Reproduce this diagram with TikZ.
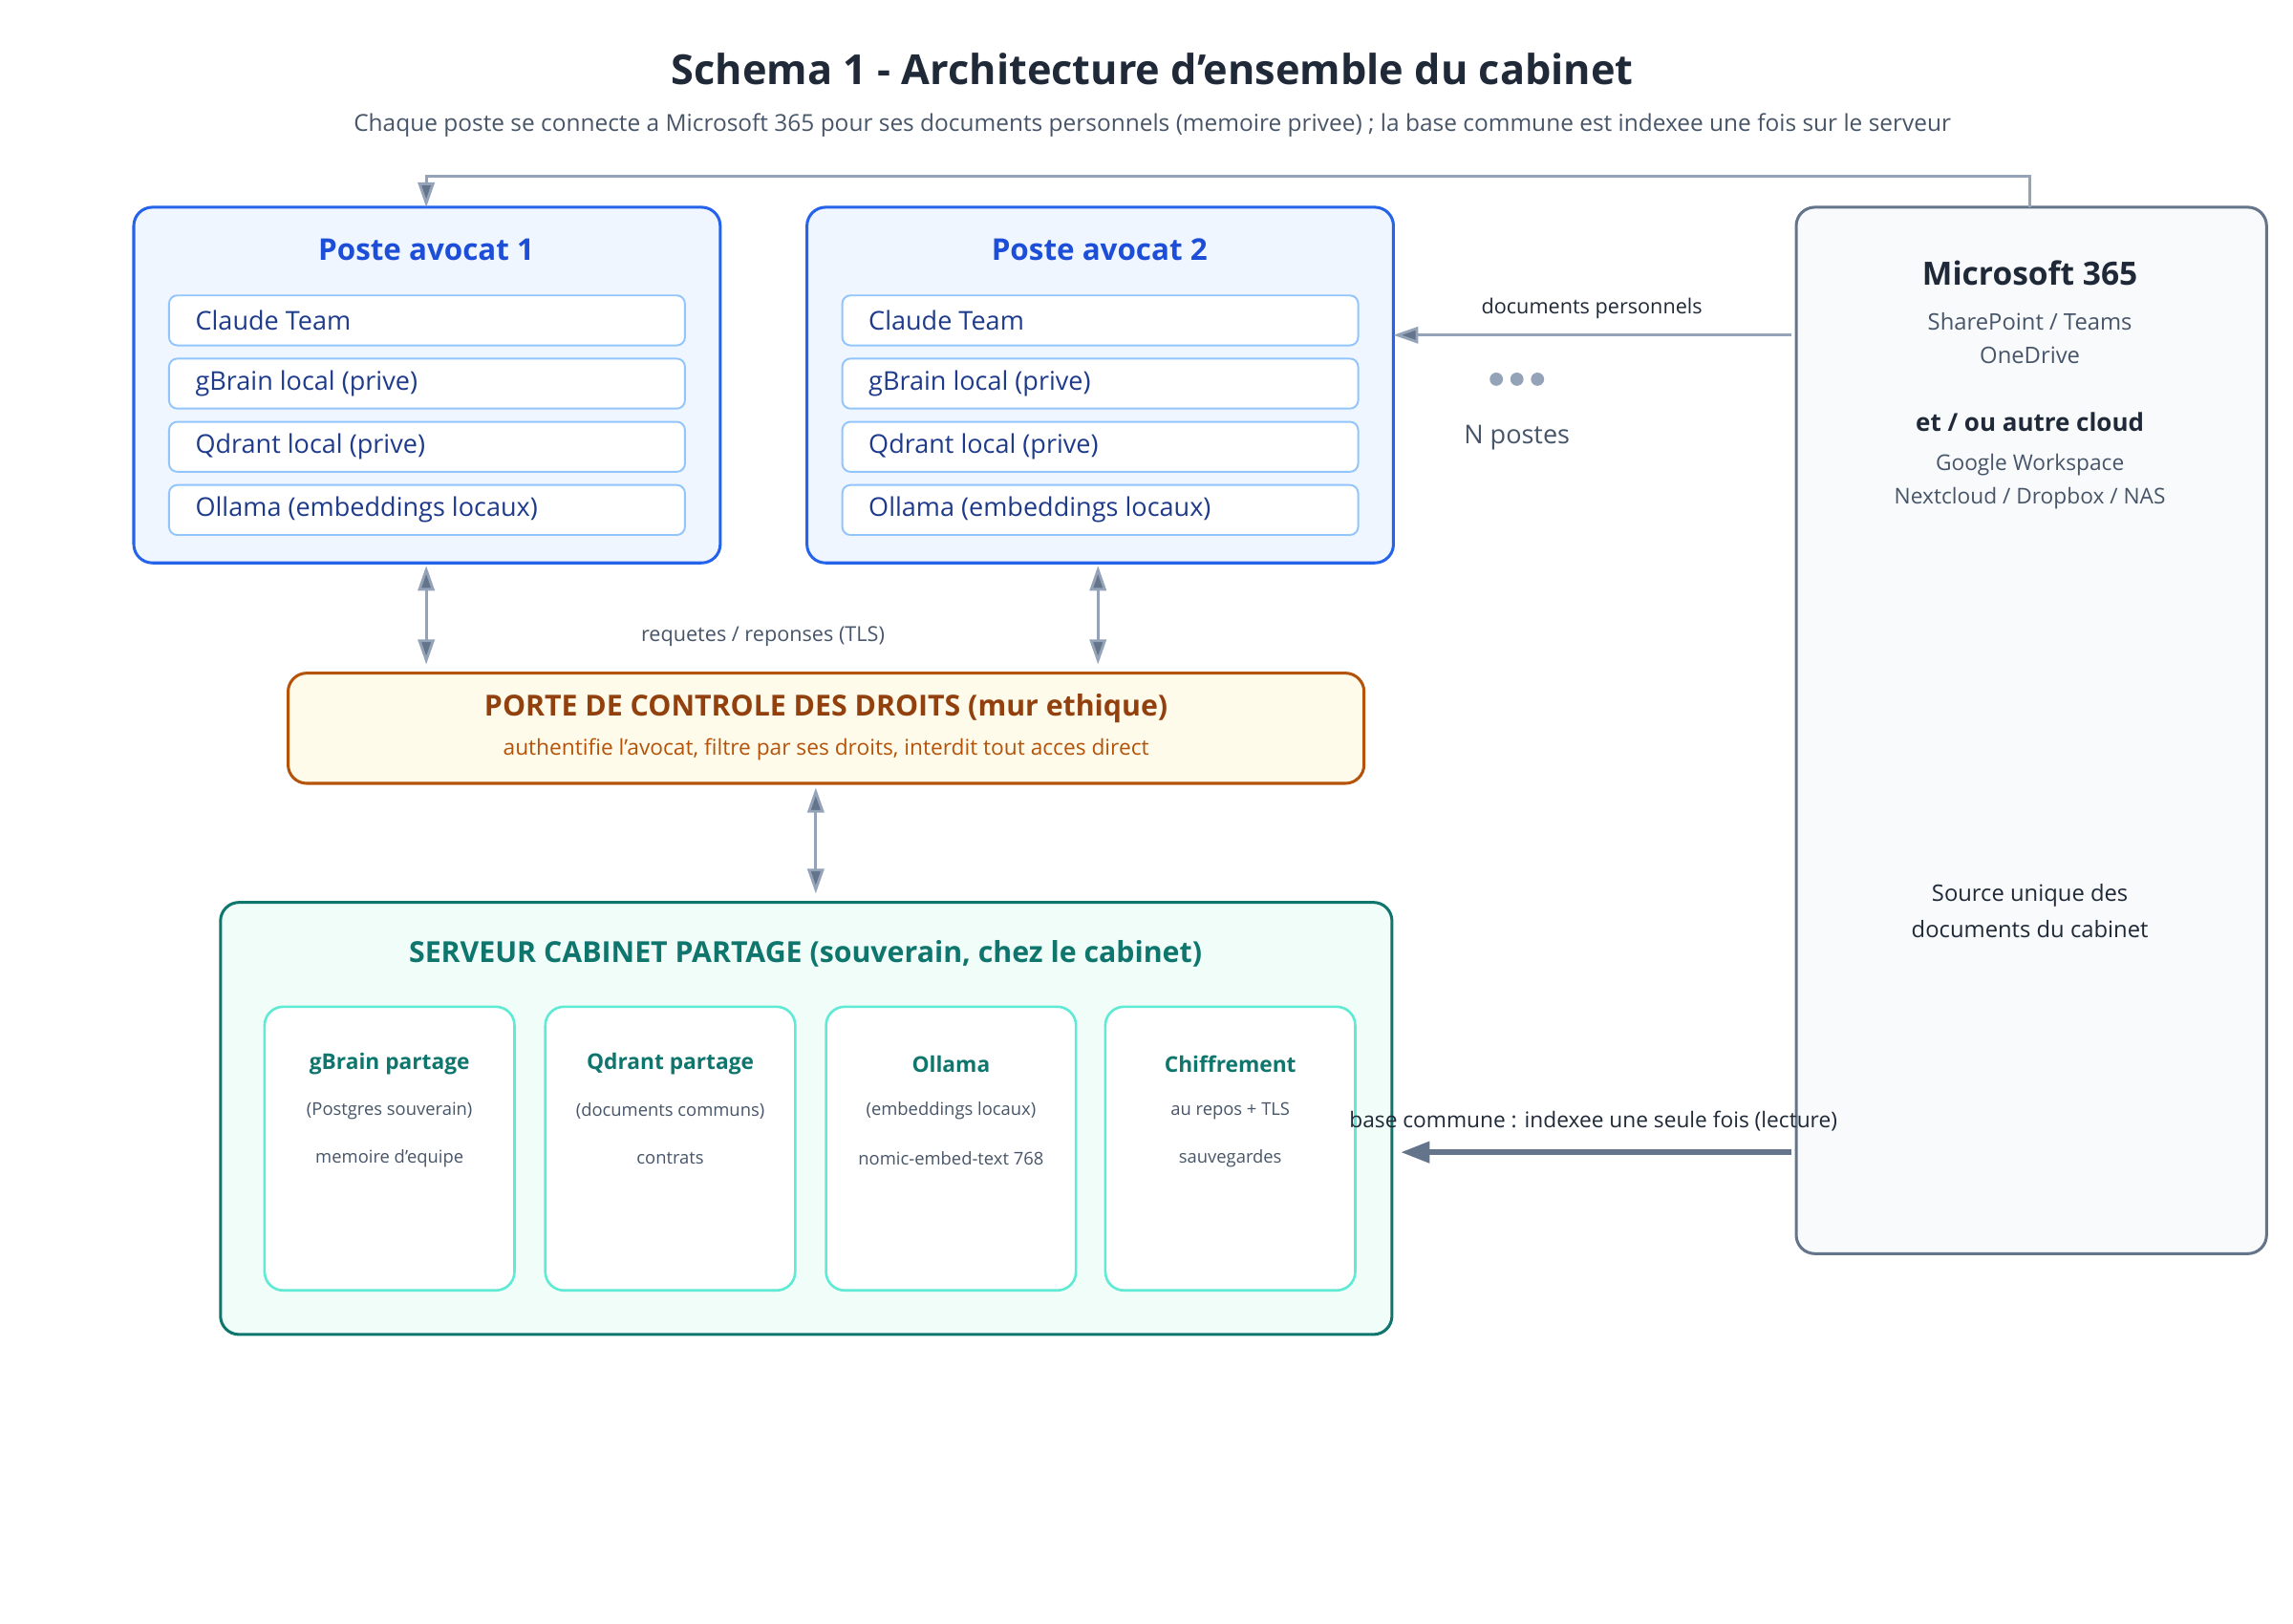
\documentclass[tikz,border=0pt]{standalone}
\usepackage{fontspec}
\setmainfont{Open Sans}
\usetikzlibrary{arrows.meta}
\definecolor{pb}{HTML}{2563EB}\definecolor{pf}{HTML}{EFF6FF}\definecolor{pt}{HTML}{1D4ED8}
\definecolor{ib}{HTML}{93C5FD}\definecolor{it}{HTML}{1E3A8A}
\definecolor{gb}{HTML}{B45309}\definecolor{gf}{HTML}{FEFBEA}\definecolor{gt}{HTML}{92400E}
\definecolor{sb}{HTML}{0F766E}\definecolor{sf}{HTML}{F0FDF9}\definecolor{sib}{HTML}{5EEAD4}
\definecolor{mb}{HTML}{64748B}\definecolor{mf}{HTML}{F8FAFC}\definecolor{ln}{HTML}{94A3B8}
\definecolor{dk}{HTML}{1F2937}\definecolor{tx}{HTML}{475569}
\begin{document}
\begin{tikzpicture}[x=0.025cm,y=-0.025cm,
 box/.style={draw,rounded corners=9pt,line width=1.4pt},
 inner/.style={draw=ib,fill=white,rounded corners=4pt,line width=0.9pt},
 itx/.style={anchor=west,text=it,font=\fontsize{12.5}{14}\selectfont},
 small/.style={text=tx,font=\fontsize{8.5}{10}\selectfont},
 arr/.style={draw=ln,line width=1.3pt,-{Triangle[length=12pt,width=8pt,fill=mb]}},
 darr/.style={draw=ln,line width=1.3pt,{Triangle[length=12pt,width=8pt,fill=mb]}-{Triangle[length=12pt,width=8pt,fill=mb]}}]
\useasboundingbox (0,0) rectangle (1560,1105);
\node[font=\bfseries\fontsize{20}{24}\selectfont,text=dk] (title) at (784,47) {Schema 1 - Architecture d'ensemble du cabinet};
\node[font=\fontsize{11.3}{13}\selectfont,text=tx] (sub) at (784,85) {Chaque poste se connecte a Microsoft 365 pour ses documents personnels (memoire privee) ; la base commune est indexee une fois sur le serveur};
% postes
\foreach \n/\x in {1/91,2/549}{
 \draw[box,draw=pb,fill=pf] (\x,141) rectangle ++(399,242);
 \node[font=\bfseries\fontsize{14.5}{17}\selectfont,text=pt] (pt\n) at (\x+199,170) {Poste avocat \n};
 \foreach \i/\t in {0/Claude Team,1/gBrain local (prive),2/Qdrant local (prive),3/Ollama (embeddings locaux)}{
  \draw[inner] (\x+24,201+43*\i) rectangle ++(351,34);
  \node[itx] (p\n i\i) at (\x+37,218+43*\i) {\t};}
}
\coordinate (p1top) at (290,141);\coordinate (p1bot) at (290,385);
\coordinate (p2bot) at (747,385);\coordinate (p2right) at (948,228);
% MS365
\draw[box,draw=mb,fill=mf] (1222,141) rectangle (1542,853);
\node[font=\bfseries\fontsize{15.5}{18}\selectfont,text=dk] (ms) at (1381,186) {Microsoft 365};
\node[text=tx,font=\fontsize{11}{13}\selectfont] (ms1) at (1381,219) {SharePoint / Teams};
\node[text=tx,font=\fontsize{11}{13}\selectfont] (ms2) at (1381,242) {OneDrive};
\node[font=\bfseries\fontsize{12}{14}\selectfont,text=dk] (ms3) at (1381,287) {et / ou autre cloud};
\node[text=tx,font=\fontsize{10.5}{13}\selectfont] (ms4) at (1381,316) {Google Workspace};
\node[text=tx,font=\fontsize{10.5}{13}\selectfont] (ms5) at (1381,339) {Nextcloud / Dropbox / NAS};
\node[text=dk,font=\fontsize{11}{13}\selectfont] (ms6) at (1381,609) {Source unique des};
\node[text=dk,font=\fontsize{11}{13}\selectfont] (ms7) at (1381,632) {documents du cabinet};
\coordinate (mstop) at (1381,141);\coordinate (msl1) at (1219,228);\coordinate (msl2) at (1219,784);
\draw[arr] (mstop) -- (1381,120) -- (290,120) -- (p1top);
\draw[arr] (msl1) -- (p2right);
\node[font=\fontsize{10}{12}\selectfont,text=dk] (dp) at (1083,210) {documents personnels};
\foreach \dx in {-14,0,14}\fill[ln] (1032+\dx,258) circle (4.5);
\node[font=\fontsize{12.5}{14}\selectfont,text=tx] (np) at (1032,298) {N postes};
% gate
\draw[box,draw=gb,fill=gf] (196,458) rectangle (928,533);
\node[font=\bfseries\fontsize{14}{17}\selectfont,text=gt] (g1) at (562,482) {PORTE DE CONTROLE DES DROITS (mur ethique)};
\node[font=\fontsize{10.5}{12}\selectfont,text=gb] (g2) at (562,510) {authentifie l'avocat, filtre par ses droits, interdit tout acces direct};
\coordinate (gt1) at (290,452);\coordinate (gt2) at (747,452);\coordinate (gbot) at (555,536);\coordinate (stop) at (555,608);
\draw[darr] (p1bot) -- (gt1);
\draw[darr] (p2bot) -- (gt2);
\node[font=\fontsize{10}{12}\selectfont,text=tx] (rq) at (519,433) {requetes / reponses (TLS)};
\draw[darr] (gbot) -- (stop);
% server
\draw[box,draw=sb,fill=sf] (150,614) rectangle (947,908);
\node[font=\bfseries\fontsize{14}{17}\selectfont,text=sb] (st) at (548,649) {SERVEUR CABINET PARTAGE (souverain, chez le cabinet)};
\foreach \k/\x/\a/\b/\c in {1/180/gBrain partage/(Postgres souverain)/memoire d'equipe,
 2/371/Qdrant partage/(documents communs)/contrats / dossiers,
 3/562/Ollama/(embeddings locaux)/nomic-embed-text 768,
 4/752/Chiffrement/au repos + TLS/sauvegardes}{
 \draw[draw=sib,fill=white,rounded corners=9pt,line width=1.2pt] (\x,685) rectangle ++(170,193);
 \node[font=\bfseries\fontsize{10.5}{12}\selectfont,text=sb] (s\k a) at (\x+85,724) {\a};
 \node[small] (s\k b) at (\x+85,756) {\b};
 \node[small] (s\k c) at (\x+85,788) {\c};}
\coordinate (sright) at (953,784);
\draw[draw=mb,line width=2.6pt,-{Triangle[length=14pt,width=10pt,fill=mb]}] (msl2) -- (sright);
\node[font=\fontsize{10.5}{12}\selectfont,text=dk] (bc) at (1084,763) {base commune : indexee une seule fois (lecture)};
\end{tikzpicture}
\end{document}
